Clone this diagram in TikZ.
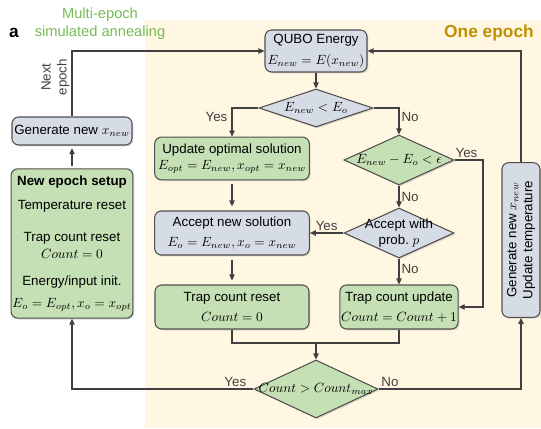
\documentclass[tikz,border=0pt]{standalone}
\usepackage{fontspec}
\setmainfont{Liberation Sans}
\usetikzlibrary{arrows.meta, shapes.geometric, shadows}
\definecolor{bgyellow}{HTML}{FFF7E1}
\definecolor{boxblue}{HTML}{D6DCE5}
\definecolor{boxgreen}{HTML}{C5E0B4}
\definecolor{edgegray}{HTML}{505050}
\definecolor{linegray}{HTML}{404040}
\definecolor{epochgold}{HTML}{BF9000}
\definecolor{titlegreen}{HTML}{77BB55}

\begin{document}
\begin{tikzpicture}[
    x=0.75pt, y=-0.75pt,
    every node/.style={font=\fontsize{10}{12}\selectfont},
    lab/.style={inner sep=1.5pt},
    card/.style={rectangle, rounded corners=5pt, draw=edgegray, line width=0.8pt,
                 align=center, inner xsep=1pt, inner ysep=2pt,
                 drop shadow={opacity=0.3, shadow xshift=1pt, shadow yshift=-1pt}},
    bluecard/.style={card, fill=boxblue},
    greencard/.style={card, fill=boxgreen},
    dia/.style={diamond, aspect=2.2, draw=edgegray, line width=0.8pt,
                align=center, inner sep=-4pt,
                drop shadow={opacity=0.3, shadow xshift=1pt, shadow yshift=-1pt}},
    wire/.style={linegray, line width=0.9pt},
    flow/.style={wire, -{Triangle[length=4.5pt, width=4pt]}},
]
\useasboundingbox (0,0) rectangle (541,428);

% ================================================ background and titles
\fill[bgyellow] (145,20) rectangle (541,428);
\node[font=\fontsize{13}{15}\selectfont\bfseries] (panel) at (14,33) {a};
\node[text=titlegreen, font=\fontsize{11}{13.5}\selectfont, align=center] (multi) at (100,24)
    {Multi-epoch\\simulated annealing};
\node[text=epochgold, font=\fontsize{13}{15}\selectfont\bfseries] (epoch) at (489,33) {One epoch};

% ================================================ one epoch
\node[bluecard, minimum width=76.5pt, minimum height=31.5pt] (qubo) at (316,51)
    {QUBO Energy\\[4pt]$E_{new}=E(x_{new})$};
\node[dia, fill=boxblue, minimum width=85.5pt, minimum height=28.5pt] (d1) at (316,108)
    {$E_{new}<E_o$};
\node[greencard, minimum width=116pt, minimum height=32pt] (upd) at (232,158.5)
    {Update optimal solution\\$E_{opt}=E_{new}, x_{opt}=x_{new}$};
\node[dia, fill=boxgreen, minimum width=82.5pt, minimum height=37.5pt] (d2) at (399,160)
    {$E_{new}-E_o<\epsilon$};
\node[bluecard, minimum width=116pt, minimum height=33pt] (acc) at (232,233)
    {Accept new solution\\[3pt]$E_o=E_{new}, x_o=x_{new}$};
\node[dia, fill=boxblue, minimum width=82.5pt, minimum height=37.5pt] (d3) at (399,233)
    {Accept with\\prob.\ $p$};
\node[greencard, minimum width=115.5pt, minimum height=33pt] (rst) at (232,307)
    {Trap count reset\\[3pt]$Count=0$};
\node[greencard, minimum width=87pt, minimum height=33pt] (tcu) at (399,307)
    {Trap count update\\[3pt]$Count=Count+1$};
\node[dia, fill=boxgreen, minimum width=93pt, minimum height=43.5pt] (d4) at (316,389)
    {$Count>Count_{max}$};
\node[bluecard, rotate=90, minimum width=116pt, minimum height=28.5pt] (gennew) at (521,240)
    {Generate new $x_{new}$\\Update temperature};

% ================================================ multi-epoch column
\node[bluecard, minimum width=90pt, minimum height=21pt] (gen) at (72,131)
    {Generate new $x_{new}$};
\node[greencard, minimum width=90pt, minimum height=112pt] (setup) at (72,243.5)
    {\textbf{New epoch setup}\\[6pt]Temperature reset\\[12pt]Trap count reset\\[1pt]$Count=0$\\[8pt]%
     Energy/input init.\\[5pt]$E_o=E_{opt}, x_o=x_{opt}$};

% ================================================ connectors
\draw[flow] (qubo) -- (d1);
\draw[flow] (d1.west) -| node[lab, left, pos=0.65, xshift=-1.5pt] {Yes} (upd.north);
\draw[flow] (d1.east) -| node[lab, right, pos=0.67] {No} (d2.north);
\coordinate (yesr) at (483,160);
\draw[flow] (d2.east) -- node[lab, above, pos=0.42] {Yes} (yesr) |- (tcu.east);
\draw[flow] (d2) -- node[lab, right] {No} (d3);
\draw[flow] (d3) -- node[lab, above] {Yes} (acc);
\draw[flow] (d3) -- node[lab, right, pos=0.4] {No} (tcu);
\draw[flow, shorten <=3pt, shorten >=3pt] (upd) -- (acc);
\draw[flow, shorten <=3pt, shorten >=3pt] (acc) -- (rst);

% the two trap counters join
\coordinate (merge) at (316,343);
\draw[wire] (rst.south) |- (merge);
\draw[wire] (tcu.south) |- (merge);
\draw[flow] (merge) -- (d4.north);

\draw[flow] (d4.east) -| node[lab, above, pos=0.04] {No} (gennew.west);
\draw[flow] (gennew.east) |- (qubo.east);
\draw[flow] (d4.west) -| node[lab, above, pos=0.05] {Yes} (setup.south);
\draw[flow, shorten <=2pt, shorten >=2pt] (setup) -- (gen);
\draw[flow] (gen.north) |- node[lab, rotate=90, anchor=south, pos=0.3, align=center]
    {Next\\epoch} (qubo.west);

\end{tikzpicture}
\end{document}
